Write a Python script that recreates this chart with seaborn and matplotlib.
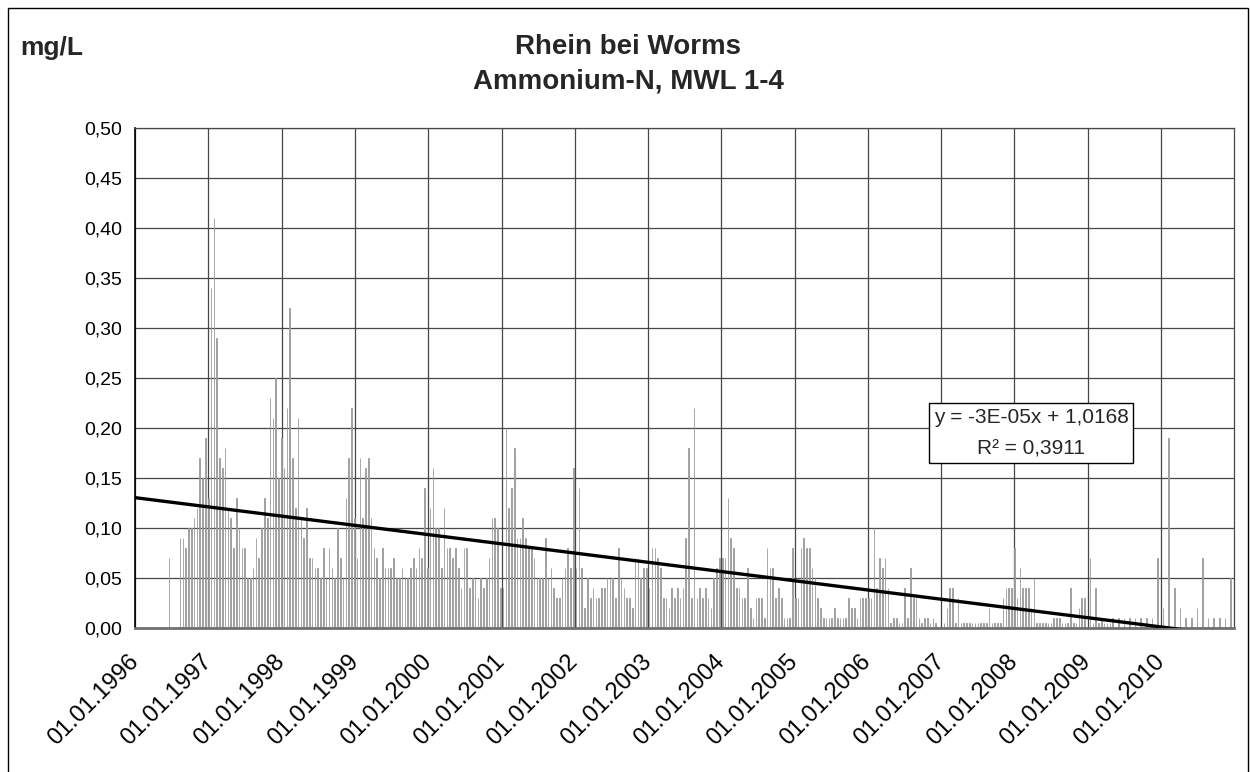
"""Rhein bei Worms - Ammonium-N, Excel-style biweekly bar chart with trend line."""

import matplotlib

matplotlib.use("Agg")
import matplotlib.pyplot as plt
import numpy as np
import pandas as pd
import seaborn as sns
from matplotlib.patches import Rectangle

nan = np.nan

# biweekly sampling, first sample mid June 1996
FIRST_SAMPLE = "1996-06-18"
SAMPLE_STEP_DAYS = 14

AMMONIUM_N = [
    0.07, nan, nan, nan, 0.09, 0.09, 0.08, 0.10, 0.10, 0.11,
    0.12, 0.17, 0.15, 0.19, 0.13, 0.34, 0.41, 0.29, 0.17, 0.16,
    0.18, 0.12, 0.11, 0.08, 0.13, 0.10, 0.08, 0.08, 0.05, 0.05,
    0.06, 0.09, 0.07, 0.10, 0.13, 0.11, 0.23, 0.21, 0.25, 0.15,
    0.19, 0.16, 0.22, 0.32, 0.17, 0.12, 0.21, 0.11, 0.09, 0.12,
    0.07, 0.07, 0.06, 0.06, 0.05, 0.08, 0.05, 0.08, 0.06, 0.05,
    0.10, 0.07, 0.05, 0.13, 0.17, 0.22, 0.11, 0.07, 0.17, 0.11,
    0.16, 0.17, 0.11, 0.08, 0.07, 0.05, 0.08, 0.06, 0.06, 0.06,
    0.07, 0.05, 0.05, 0.06, 0.05, 0.05, 0.06, 0.07, 0.06, 0.08,
    0.07, 0.14, 0.06, 0.12, 0.16, 0.10, 0.10, 0.06, 0.12, 0.08,
    0.08, 0.07, 0.08, 0.06, 0.04, 0.08, 0.08, 0.04, 0.05, 0.05,
    0.03, 0.05, 0.04, 0.05, 0.07, 0.11, 0.11, 0.10, 0.04, 0.04,
    0.20, 0.12, 0.14, 0.18, 0.09, 0.09, 0.11, 0.09, 0.08, 0.08,
    0.07, 0.05, 0.05, 0.05, 0.09, 0.05, 0.06, 0.04, 0.03, 0.03,
    0.05, 0.06, 0.08, 0.06, 0.16, 0.06, 0.14, 0.06, 0.02, 0.05,
    0.03, 0.04, 0.03, 0.03, 0.04, 0.04, 0.05, 0.05, 0.05, 0.03,
    0.08, 0.05, 0.04, 0.03, 0.03, 0.02, 0.07, 0.07, 0.05, 0.06,
    0.06, 0.04, 0.08, 0.08, 0.07, 0.06, 0.03, 0.03, 0.02, 0.04,
    0.03, 0.04, 0.03, 0.04, 0.09, 0.18, 0.03, 0.22, 0.03, 0.04,
    0.03, 0.04, 0.03, 0.02, 0.05, 0.06, 0.07, 0.07, 0.07, 0.13,
    0.09, 0.08, 0.04, 0.04, 0.03, 0.03, 0.06, 0.02, 0.01, 0.03,
    0.03, 0.03, 0.01, 0.08, 0.06, 0.06, 0.03, 0.04, 0.03, 0.01,
    0.01, 0.01, 0.08, 0.03, 0.03, 0.08, 0.09, 0.08, 0.08, 0.06,
    0.05, 0.03, 0.02, 0.01, 0.01, 0.01, 0.01, 0.02, 0.01, 0.01,
    0.01, 0.01, 0.03, 0.02, 0.02, 0.01, 0.03, 0.03, 0.03, 0.03,
    0.03, 0.10, 0.04, 0.07, 0.06, 0.07, 0.04, 0.005, 0.01, 0.01,
    0.005, 0.005, 0.04, 0.01, 0.06, 0.03, 0.03, 0.01, 0.005, 0.01,
    0.01, 0.005, 0.01, 0.005, nan, nan, 0.005, 0.02, 0.04, 0.04,
    0.005, 0.03, 0.005, 0.005, 0.005, 0.005, 0.005, 0.005, 0.005, 0.005,
    0.005, 0.005, 0.02, 0.005, 0.005, 0.005, 0.005, 0.03, 0.04, 0.04,
    0.04, 0.08, 0.03, 0.06, 0.04, 0.04, 0.04, 0.02, 0.05, 0.005,
    0.005, 0.005, 0.005, 0.005, 0.005, 0.01, 0.01, 0.01, 0.005, 0.005,
    0.005, 0.04, 0.005, 0.005, 0.02, 0.03, 0.03, nan, 0.07, 0.005,
    0.04, 0.005, 0.01, 0.005, 0.005, 0.005, 0.01, nan, 0.01, nan,
    0.01, nan, 0.01, nan, 0.01, nan, 0.01, nan, 0.01, nan,
    0.01, nan, 0.07, nan, 0.02, nan, 0.19, nan, 0.04, nan,
    0.02, nan, 0.01, nan, 0.01, nan, 0.02, nan, 0.07, nan,
    0.01, nan, 0.01, nan, 0.01, nan, 0.01, nan, 0.05,
]

# Excel trend line (x = Excel serial date)
TREND_SLOPE = -2.528e-05
TREND_INTERCEPT = 1.0168
TREND_LABEL = "y = -3E-05x + 1,0168\nR² = 0,3911"

YEARS = list(range(1996, 2011))
Y_TICKS = [0.00, 0.05, 0.10, 0.15, 0.20, 0.25, 0.30, 0.35, 0.40, 0.45, 0.50]
X_START = "1996-01-01"
X_END = "2010-12-31"

TITLE = "Rhein bei Worms\nAmmonium-N, MWL 1-4"
UNIT = "mg/L"

BAR_COLOR = "#9a9a9a"
GRID_COLOR = "#474747"
W, H = 1250, 772

sns.set_style("white")
plt.rcParams["font.family"] = ["Liberation Sans", "DejaVu Sans"]

dates = pd.date_range(FIRST_SAMPLE, periods=len(AMMONIUM_N), freq=f"{SAMPLE_STEP_DAYS}D")
df = pd.DataFrame({"date": dates, "value": AMMONIUM_N}).dropna()

fig = plt.figure(figsize=(W / 100, H / 100), dpi=100)
ax = fig.add_axes([135 / W, 1 - 628 / H, (1234 - 135) / W, 500 / H])

ax.bar(df["date"], df["value"], width=3, color=BAR_COLOR, edgecolor=BAR_COLOR,
       linewidth=0.6, zorder=2)

# trend line from the Excel equation
trend_dates = pd.date_range(X_START, df["date"].iloc[-1], freq="D")
serial = (trend_dates - pd.Timestamp("1899-12-30")).days.to_numpy()
trend = pd.DataFrame({"date": trend_dates, "value": TREND_INTERCEPT + TREND_SLOPE * serial})
sns.lineplot(data=trend, x="date", y="value", color="black", linewidth=2.4, ax=ax, zorder=4)

ax.set_xlim(pd.Timestamp(X_START), pd.Timestamp(X_END))
ax.set_ylim(0, 0.5)
ax.set_yticks(Y_TICKS)
ax.set_yticklabels([f"{v:.2f}".replace(".", ",") for v in Y_TICKS])
year_ticks = [pd.Timestamp(f"{y}-01-01") for y in YEARS]
ax.set_xticks(year_ticks)
ax.set_xticklabels([t.strftime("%d.%m.%Y") for t in year_ticks], rotation=45,
                   ha="right", va="center", rotation_mode="anchor", fontsize=17)
ax.set_xlabel("")
ax.set_ylabel("")

ax.grid(True, color=GRID_COLOR, linewidth=0.9, zorder=1)
ax.set_axisbelow(True)
ax.tick_params(axis="both", direction="out", length=6, width=1, color="black",
               labelcolor="black")
ax.tick_params(axis="y", labelsize=14)
ax.tick_params(axis="x", pad=16)
for side in ["top", "right"]:
    ax.spines[side].set_color(GRID_COLOR)
    ax.spines[side].set_linewidth(0.9)
ax.spines["left"].set_color("black")
ax.spines["left"].set_linewidth(1.2)
ax.spines["bottom"].set_color("#707070")
ax.spines["bottom"].set_linewidth(2)

ax.text(1031 / W, 1 - 433 / H, TREND_LABEL, transform=fig.transFigure, ha="center",
        va="center", multialignment="center", fontsize=15, linespacing=1.85, zorder=5,
        bbox=dict(boxstyle="square,pad=0.22", facecolor="white", edgecolor="black",
                  linewidth=1))

fig.text(628 / W, 1 - 64 / H, TITLE, ha="center", va="center", fontsize=20,
         fontweight="bold", linespacing=1.45)
fig.text(20 / W, 1 - 48 / H, UNIT, ha="left", va="center", fontsize=19,
         fontweight="bold")

fig.add_artist(Rectangle((8 / W, -0.1), (1248 - 8) / W, 1.1 - 8 / H,
                         transform=fig.transFigure, fill=False,
                         edgecolor="black", linewidth=1))

fig.savefig("out.png", dpi=100, facecolor="white")
